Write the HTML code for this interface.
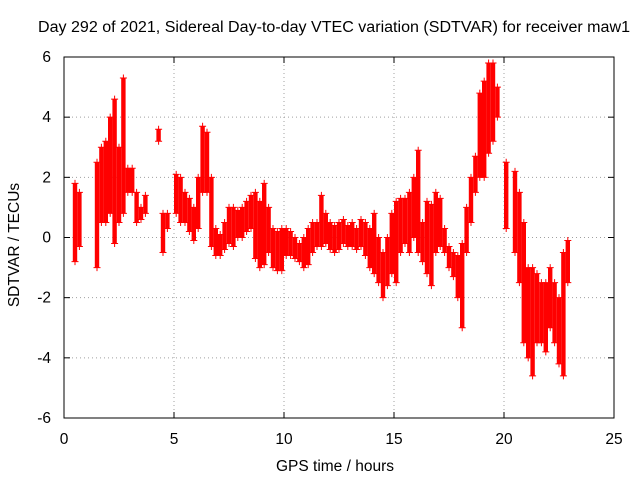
<!DOCTYPE html>
<html><head><meta charset="utf-8"><style>
body{margin:0;background:#fff;}
svg text{font-family:"Liberation Sans",sans-serif;font-size:15.5px;fill:#000;}
</style></head><body>
<svg id="chart" width="640" height="480" viewBox="0 0 640 480">
<rect width="640" height="480" fill="#fff"/>
<text x="38" y="32" textLength="592" lengthAdjust="spacingAndGlyphs">Day 292 of 2021, Sidereal Day-to-day VTEC variation (SDTVAR) for receiver maw1</text>
<g id="grid"></g>
<g id="marks"></g>
<g id="axes"></g>
<text x="335" y="471" text-anchor="middle">GPS time / hours</text>
<text transform="translate(19,245) rotate(-90)" text-anchor="middle">SDTVAR / TECUs</text>
</svg>
<script>
const xTicks=[0,5,10,15,20,25];
const yTicks=[-6,-4,-2,0,2,4,6];
const binTimes=[0.5,0.7,1.5,1.7,1.9,2.1,2.3,2.5,2.7,2.9,3.1,3.3,3.5,3.7,4.3,4.5,4.7,5.1,5.3,5.5,5.7,5.9,6.1,6.3,6.5,6.7,6.9,7.1,7.3,7.5,7.7,7.9,8.1,8.3,8.5,8.7,8.9,9.1,9.3,9.5,9.7,9.9,10.1,10.3,10.5,10.7,10.9,11.1,11.3,11.5,11.7,11.9,12.1,12.3,12.5,12.7,12.9,13.1,13.3,13.5,13.7,13.9,14.1,14.3,14.5,14.7,14.9,15.1,15.3,15.5,15.7,15.9,16.1,16.3,16.5,16.7,16.9,17.1,17.3,17.5,17.7,17.9,18.1,18.3,18.5,18.7,18.9,19.1,19.3,19.5,19.7,20.1,20.5,20.7,20.9,21.1,21.3,21.5,21.7,21.9,22.1,22.3,22.5,22.7,22.9];
const lowValues=[-0.8,-0.3,-1.0,0.5,0.5,0.8,-0.2,0.5,0.8,1.5,1.5,0.5,0.6,0.8,3.2,-0.5,0.3,0.8,0.5,0.5,0.2,-0.1,0.3,1.5,1.5,-0.3,-0.6,-0.6,-0.4,-0.2,-0.3,0.0,0.0,0.2,0.3,-0.7,-1.0,-0.9,-0.5,-1.0,-1.1,-1.1,-0.6,-0.6,-0.7,-0.8,-1.0,-0.9,-0.5,-0.3,-0.3,-0.2,-0.4,-0.5,-0.4,-0.2,-0.3,-0.3,-0.4,-0.3,-0.6,-1.0,-1.2,-1.5,-2.0,-1.6,-1.2,-1.5,-0.5,-0.2,-0.5,0.0,-0.5,-0.8,-1.2,-1.6,-0.5,-0.3,-0.5,-1.0,-1.3,-2.0,-3.0,-0.5,0.5,1.5,2.0,2.0,2.8,3.2,4.0,0.3,-0.5,-1.5,-3.5,-4.0,-4.6,-3.5,-3.5,-3.8,-3.0,-3.5,-4.2,-4.6,-1.5];
const highValues=[1.8,1.5,2.5,3.0,3.2,4.0,4.6,3.0,5.3,2.3,2.3,1.5,1.0,1.4,3.6,0.8,0.8,2.1,2.0,1.5,1.3,1.0,2.0,3.7,3.5,2.0,0.3,0.1,0.5,1.0,1.0,0.9,1.0,1.2,1.4,1.5,1.2,1.8,1.0,0.3,0.2,0.3,0.3,0.2,0.0,-0.2,0.0,0.3,0.5,0.5,1.4,0.8,0.5,0.4,0.5,0.6,0.4,0.5,0.3,0.6,0.5,0.3,0.8,0.0,-0.5,0.0,0.8,1.2,1.3,1.3,1.5,2.0,2.9,0.5,1.2,1.1,1.5,1.3,0.3,-0.3,-0.5,-0.6,-0.2,1.0,2.0,2.7,4.8,5.2,5.8,5.8,5.0,2.5,2.2,1.5,0.5,-1.0,-1.0,-1.2,-1.5,-1.5,-1.0,-1.5,-2.0,-0.5,-0.1];
const NS="http://www.w3.org/2000/svg";
const X0=64,X1=614,Y0=418,Y1=57,BW=0.2;
function xs(t){return X0+t/25*(X1-X0);}
function ys(v){return Y0-(v+6)/12*(Y0-Y1);}
function mk(tag,attrs,parent){const e=document.createElementNS(NS,tag);for(const k in attrs)e.setAttribute(k,attrs[k]);parent.appendChild(e);return e;}
const grid=document.getElementById('grid'),axes=document.getElementById('axes'),marks=document.getElementById('marks');
xTicks.forEach(t=>{const x=xs(t);
 if(t>0&&t<25){const g=mk('line',{x1:x,y1:Y1,x2:x,y2:Y0,stroke:'#a0a0a0','stroke-dasharray':'1,3','stroke-width':1},grid);
 
 }
 mk('line',{x1:x,y1:Y0,x2:x,y2:Y0-6,stroke:'#000'},axes);mk('line',{x1:x,y1:Y1,x2:x,y2:Y1+6,stroke:'#000'},axes);
 const tx=mk('text',{x:x,y:Y0+26,'text-anchor':'middle'},axes);tx.textContent=t;
 
 
});
yTicks.forEach(v=>{const y=ys(v);
 if(v>-6&&v<6){const g=mk('line',{x1:X0,y1:y,x2:X1,y2:y,stroke:'#a0a0a0','stroke-dasharray':'1,3','stroke-width':1},grid);
 
 }
 mk('line',{x1:X0,y1:y,x2:X0+6,y2:y,stroke:'#000'},axes);mk('line',{x1:X1,y1:y,x2:X1-6,y2:y,stroke:'#000'},axes);
 const tx=mk('text',{x:X0-13,y:y+5,'text-anchor':'end'},axes);tx.textContent=v;
 
 
});
const frame=mk('rect',{x:X0,y:Y1,width:X1-X0,height:Y0-Y1,fill:'none',stroke:'#000'},axes);


binTimes.forEach((t,i)=>{
 const xa=xs(t-BW/2),xb=xs(t+BW/2),yt=ys(highValues[i]),yb=ys(lowValues[i]);
 const r=mk('rect',{x:xa,y:yt,width:xb-xa,height:Math.max(1,yb-yt),fill:'#f00'},marks);
 
 
 [highValues[i],lowValues[i]].forEach(v=>{const x=xs(t),y=ys(v);
  const p=mk('path',{d:`M${x-3.5},${y}h7M${x},${y-3.5}v7`,stroke:'#f00','stroke-width':1},marks);
  
  
 });
});
</script>
</body></html>
